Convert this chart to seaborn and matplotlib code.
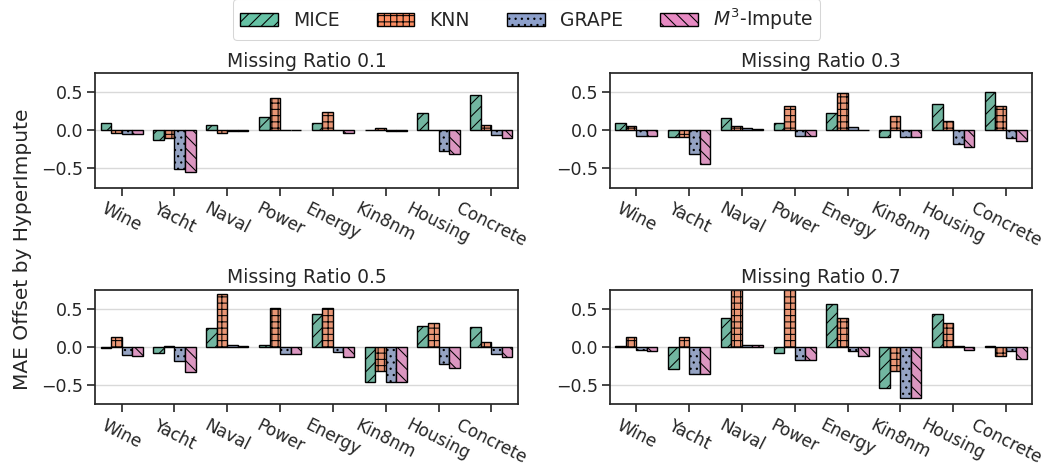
import numpy as np
import pandas as pd
import matplotlib
matplotlib.use("Agg")
import matplotlib.pyplot as plt
import seaborn as sns
from matplotlib.patches import Patch

# ========== DATA ==========
datasets = ["Wine", "Yacht", "Naval", "Power", "Energy", "Kin8nm", "Housing", "Concrete"]
methods = ["MICE", "KNN", "GRAPE", r"$M^3$-Impute"]
ratios = ["0.1", "0.3", "0.5", "0.7"]

# MAE offset values per missing ratio (rows follow methods order)
offset_01 = [
    [0.10, -0.13, 0.07, 0.175, 0.10, 0.005, 0.23, 0.465],
    [-0.035, -0.10, -0.03, 0.42, 0.24, 0.025, 0.005, 0.07],
    [-0.05, -0.51, -0.01, 0.01, 0.01, -0.01, -0.27, -0.06],
    [-0.05, -0.55, -0.01, 0.005, -0.03, -0.01, -0.31, -0.10],
]
offset_03 = [
    [0.10, -0.09, 0.16, 0.10, 0.22, -0.09, 0.35, 0.50],
    [0.05, -0.09, 0.06, 0.32, 0.49, 0.19, 0.12, 0.32],
    [-0.08, -0.31, 0.03, -0.07, 0.04, -0.09, -0.18, -0.10],
    [-0.08, -0.44, 0.015, -0.08, 0.005, -0.09, -0.22, -0.135],
]
offset_05 = [
    [-0.02, -0.08, 0.245, 0.03, 0.43, -0.46, 0.27, 0.26],
    [0.13, 0.013, 0.69, 0.51, 0.51, -0.32, 0.31, 0.065],
    [-0.105, -0.18, 0.02, -0.10, -0.07, -0.465, -0.23, -0.09],
    [-0.115, -0.33, 0.005, -0.10, -0.13, -0.465, -0.28, -0.14],
]
offset_07 = [
    [0.005, -0.285, 0.38, -0.08, 0.56, -0.54, 0.425, 0.013],
    [0.13, 0.13, 0.80, 0.80, 0.38, -0.32, 0.315, -0.115],
    [-0.04, -0.355, 0.02, -0.17, -0.06, -0.67, 0.005, -0.05],
    [-0.05, -0.355, 0.02, -0.17, -0.115, -0.67, -0.04, -0.155],
]
all_offsets = [offset_01, offset_03, offset_05, offset_07]

colors = sns.color_palette("Set2", 4)
hatches = ["//", "++", "..", "\\\\"]

# low dpi so the hatch spacing comes out like the original
DPI = 75
k = 100 / DPI  # point sizes below were judged at 100 dpi

# ========== PLOT ==========
sns.set_theme(style="ticks")
plt.rcParams["font.family"] = ["DejaVu Sans"]
plt.rcParams["hatch.linewidth"] = 1.0
plt.rcParams["axes.linewidth"] = 1.25 * k
plt.rcParams["xtick.major.width"] = 1.2 * k
plt.rcParams["ytick.major.width"] = 1.2 * k
plt.rcParams["xtick.major.size"] = 6 * k
plt.rcParams["ytick.major.size"] = 6 * k

fig, axes = plt.subplots(2, 2, figsize=(1047 / DPI, 465 / DPI), dpi=DPI)
fig.subplots_adjust(left=0.091, right=0.986, top=0.843, bottom=0.131,
                    wspace=0.218, hspace=0.89)

for ax, ratio, vals in zip(axes.flat, ratios, all_offsets):
    rows = []
    for m, series in zip(methods, vals):
        for d, v in zip(datasets, series):
            rows.append({"Dataset": d, "Method": m, "Offset": v})
    df = pd.DataFrame(rows)
    sns.barplot(data=df, x="Dataset", y="Offset", hue="Method",
                palette=colors, edgecolor="black", linewidth=1.0 * k,
                width=0.8, ax=ax, legend=False)
    for cont, h in zip(ax.containers, hatches):
        for bar in cont:
            bar.set_hatch(h)
    ax.set_ylim(-0.75, 0.75)
    ax.set_yticks([-0.5, 0.0, 0.5])
    ax.yaxis.grid(True, color="#d9d9d9", linewidth=1.0 * k)
    ax.set_axisbelow(True)
    ax.set_title(f"Missing Ratio {ratio}", fontsize=13.5 * k)
    ax.set_xlabel("")
    ax.set_ylabel("")
    ax.tick_params(axis="y", labelsize=12.5 * k)
    ax.tick_params(axis="x", labelsize=12.2 * k, labelrotation=-27)
    for lab in ax.get_xticklabels():
        lab.set_ha("center")

fig.supylabel("MAE Offset by HyperImpute", x=0.012, y=0.465, fontsize=14.5 * k)

handles = [Patch(facecolor=c, edgecolor="black", hatch=h, label=m, linewidth=1.0 * k)
           for c, h, m in zip(colors, hatches, methods)]
fig.legend(handles=handles, loc="upper center", ncol=4,
           bbox_to_anchor=(0.503, 1.022), fontsize=13.5 * k, frameon=True)

plt.savefig("out.png", dpi=DPI)
plt.close()
